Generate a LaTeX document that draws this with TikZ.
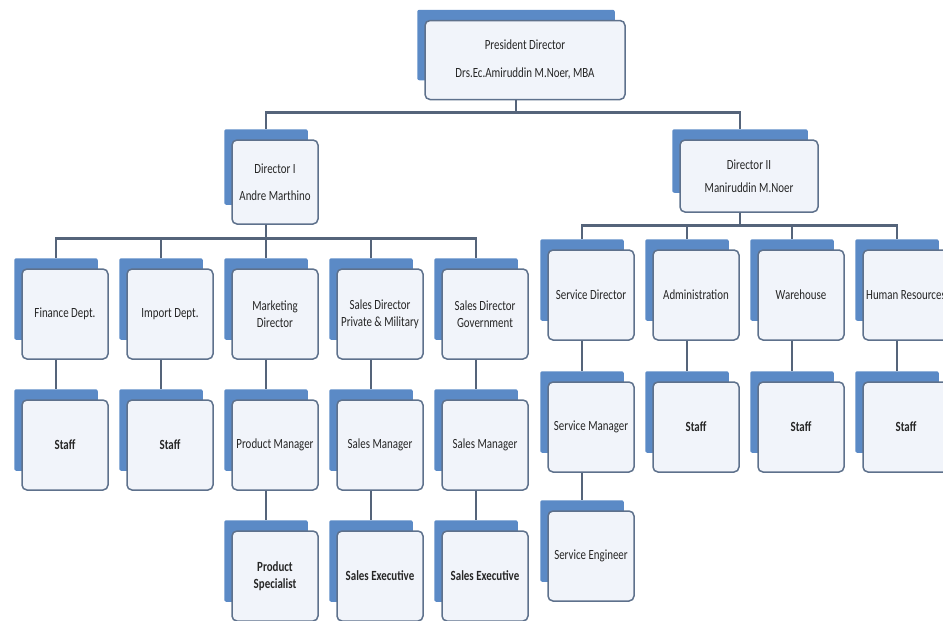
\documentclass[tikz,border=0pt]{standalone}
\usepackage{fontspec}
\setmainfont[FakeStretch=0.78]{Carlito}
\usepackage{tikz}
\usetikzlibrary{positioning, backgrounds}
\definecolor{BoxBack} {HTML}{5B8AC6}
\definecolor{BoxFill} {HTML}{F1F4FA}
\definecolor{BoxLine} {HTML}{5E718C}
\definecolor{LinkGrey}{HTML}{55647A}

\tikzset{
  unit/.style={draw=BoxLine, fill=BoxFill, line width=1.5pt,
               rounded corners=5pt, align=center, inner sep=2pt,
               text=black!85, font=\fontsize{14}{17}\selectfont,
               minimum width=86pt, minimum height=90pt},
  backsheet/.style={fill=BoxBack, rounded corners=2pt},
  link/.style={LinkGrey, line width=2.6pt}
}

\begin{document}
\begin{tikzpicture}[x=1pt, y=-1pt]
  \useasboundingbox (0,0) rectangle (943,621);
  \clip (0,0) rectangle (943,621);
  % Top of the chart
  \node[unit, minimum width=200pt, minimum height=79pt] (pres) at (525,60)
    {President Director\\[11pt]Drs.Ec.Amiruddin M.Noer, MBA};
  \node[unit, minimum height=84pt] (dir1) at (275,182)
    {Director I\\[10pt]Andre Marthino};
  \node[unit, minimum width=138pt, minimum height=72pt] (dir2) at (749,176)
    {Director II\\[6pt]Maniruddin M.Noer};
  % Director I: departments
  \node[unit] (fin) at (65,314)  {Finance Dept.};
  \node[unit] (imp) at (170,314) {Import Dept.};
  \node[unit] (mkt) at (275,314) {Marketing\\Director};
  \node[unit] (spm) at (380,314) {Sales Director\\Private \& Military};
  \node[unit] (sgv) at (485,314) {Sales Director\\Government};
  \node[unit] (finstaff) at (65,445)  {\bfseries Staff};
  \node[unit] (impstaff) at (170,445) {\bfseries Staff};
  \node[unit] (pmgr)     at (275,445) {Product Manager};
  \node[unit] (smgr1)    at (380,445) {Sales Manager};
  \node[unit] (smgr2)    at (485,445) {Sales Manager};
  \node[unit] (pspec) at (275,576) {\bfseries Product\\\bfseries Specialist};
  \node[unit] (sexe1) at (380,576) {\bfseries Sales Executive};
  \node[unit] (sexe2) at (485,576) {\bfseries Sales Executive};
  % Director II: departments
  \node[unit] (sdir) at (591,295) {Service Director};
  \node[unit] (adm)  at (696,295) {Administration};
  \node[unit] (whs)  at (801,295) {Warehouse};
  \node[unit] (hr)   at (906,295) {Human Resources};
  \node[unit] (smgr)     at (591,427) {Service Manager};
  \node[unit] (admstaff) at (696,427) {\bfseries Staff};
  \node[unit] (whsstaff) at (801,427) {\bfseries Staff};
  \node[unit] (hrstaff)  at (906,427) {\bfseries Staff};
  \node[unit] (seng) at (591,556) {Service Engineer};
  % blue sheets behind every box
  \begin{scope}[on background layer]
    \foreach \n in {pres,dir1,dir2,fin,imp,mkt,spm,sgv,finstaff,impstaff,
                    pmgr,smgr1,smgr2,pspec,sexe1,sexe2,sdir,adm,whs,hr,
                    smgr,admstaff,whsstaff,hrstaff,seng}
      \fill[backsheet] ([shift={(-7pt,10pt)}]\n.north west)
        rectangle ([shift={(-11pt,20pt)}]\n.south east);
  \end{scope}
  % Connectors
  \foreach \c in {dir1,dir2}
    \draw[link] ([xshift=-9pt]pres.south) -- ++(0,12)
      -| ([shift={(-9pt,10pt)}]\c.north);
  \foreach \c in {fin,imp,mkt,spm,sgv}
    \draw[link] ([xshift=-9pt]dir1.south) -- ++(0,14)
      -| ([shift={(-9pt,10pt)}]\c.north);
  \foreach \c in {sdir,adm,whs,hr}
    \draw[link] ([xshift=-9pt]dir2.south) -- ++(0,13)
      -| ([shift={(-9pt,10pt)}]\c.north);
  \foreach \a/\b in {fin/finstaff, imp/impstaff, mkt/pmgr, spm/smgr1,
                     sgv/smgr2, pmgr/pspec, smgr1/sexe1, smgr2/sexe2,
                     sdir/smgr, adm/admstaff, whs/whsstaff, hr/hrstaff,
                     smgr/seng}
    \draw[link] ([xshift=-9pt]\a.south) -- ([shift={(-9pt,10pt)}]\b.north);
\end{tikzpicture}
\end{document}
